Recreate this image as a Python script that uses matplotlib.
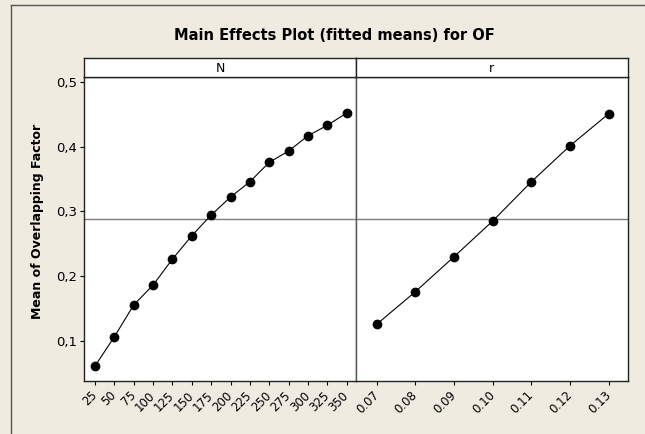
import numpy as np
import matplotlib
matplotlib.use("Agg")
import matplotlib.pyplot as plt
from matplotlib.lines import Line2D

# fitted means
n_levels = ["25", "50", "75", "100", "125", "150", "175", "200", "225",
            "250", "275", "300", "325", "350"]
n_means = [0.0614, 0.1066, 0.1556, 0.1864, 0.2265, 0.2625, 0.2944, 0.3222,
           0.3458, 0.3758, 0.3932, 0.4168, 0.4329, 0.4519]
r_levels = ["0.07", "0.08", "0.09", "0.10", "0.11", "0.12", "0.13"]
r_means = [0.1258, 0.1761, 0.2301, 0.2852, 0.3458, 0.4014, 0.4508]
y_ticks = [0.1, 0.2, 0.3, 0.4, 0.5]
y_ticklabels = ["0,1", "0,2", "0,3", "0,4", "0,5"]

grand_mean = np.mean(r_means)

W, H = 645, 434
bg = "#efebe1"
fig = plt.figure(figsize=(W / 100, H / 100), dpi=100, facecolor=bg)

def fbox(x0, y0, x1, y1):
    # pixel box (top-left origin) -> figure fraction rect
    return [x0 / W, 1 - y1 / H, (x1 - x0) / W, (y1 - y0) / H]

left, mid, right = 84.3, 356, 627.7
top, strip_top, bottom = 76.7, 57.7, 381

ax1 = fig.add_axes(fbox(left, top, mid, bottom))
ax2 = fig.add_axes(fbox(mid, top, right, bottom))
s1 = fig.add_axes(fbox(left, strip_top, mid, top))
s2 = fig.add_axes(fbox(mid, strip_top, right, top))

panels = [(ax1, s1, n_levels, n_means, "N", (0.447, 14.48)),
          (ax2, s2, r_levels, r_means, "r", (0.465, 7.49))]

for ax, strip, levels, means, name, xl in panels:
    x = np.arange(1, len(levels) + 1)
    ax.axhline(grand_mean, color="#7f7f7f", lw=1.0, zorder=1)
    ax.plot(x, means, color="black", lw=0.8, marker="o", markersize=6,
            zorder=3)
    ax.set_xlim(*xl)
    ax.set_ylim(0.0383, 0.5079)
    ax.set_xticks(x)
    ax.set_xticklabels(levels, rotation=45, ha="right", va="center",
                       rotation_mode="anchor", fontsize=8.5)
    ax.tick_params(axis="x", length=3, width=0.8, pad=6)
    for sp in ax.spines.values():
        sp.set_linewidth(1.0)
        sp.set_color("#222222")
    ax.set_facecolor("white")

    strip.set_xticks([])
    strip.set_yticks([])
    strip.set_facecolor("white")
    for sp in strip.spines.values():
        sp.set_linewidth(1.0)
        sp.set_color("#222222")
    strip.text(0.5, 0.45, name, ha="center", va="center", fontsize=9,
               transform=strip.transAxes)

ax1.set_yticks(y_ticks)
ax1.set_yticklabels(y_ticklabels, fontsize=9.5)
ax1.tick_params(axis="y", length=3, width=0.8, pad=2)
ax2.set_yticks([])
ax1.spines["right"].set_color("#555555")
ax2.spines["left"].set_color("#555555")

fig.text(38 / W, 1 - 221 / H, "Mean of Overlapping Factor", rotation=90,
         ha="center", va="center", fontsize=9, fontweight="bold")
fig.text(334 / W, 1 - 36 / H, "Main Effects Plot (fitted means) for OF",
         ha="center", va="center", fontsize=10.5, fontweight="bold")

# outer frame (only top and left visible in the crop)
fx, fy = 10.7 / W, 1 - 5 / H
fig.add_artist(Line2D([fx, 1], [fy, fy], color="#555555", lw=1.0,
                      transform=fig.transFigure))
fig.add_artist(Line2D([fx, fx], [0, fy], color="#555555", lw=1.0,
                      transform=fig.transFigure))

fig.savefig("out.png", dpi=100, facecolor=bg)
